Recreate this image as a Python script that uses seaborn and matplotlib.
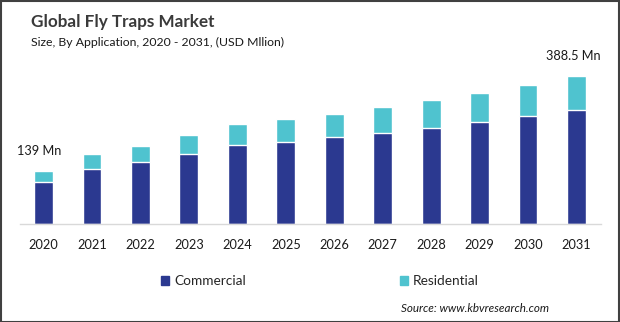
import matplotlib
matplotlib.use("Agg")
import matplotlib.pyplot as plt
import seaborn as sns
import pandas as pd
from matplotlib.patches import Rectangle

# Market size by application, USD million
years = ["2020", "2021", "2022", "2023", "2024", "2025",
         "2026", "2027", "2028", "2029", "2030", "2031"]
commercial = [110.3, 144.4, 162.8, 183.8, 207.4, 215.3,
              228.4, 238.9, 252.0, 267.8, 283.5, 299.3]
residential = [28.7, 39.4, 42.0, 49.8, 55.1, 60.3,
               60.4, 68.2, 73.5, 76.1, 81.4, 89.2]
series_names = ["Commercial", "Residential"]

COMM_COLOR = "#2b3990"
RES_COLOR = "#4fc3cf"

df = pd.DataFrame({"year": years, "Commercial": commercial, "Residential": residential})
df["total"] = df["Commercial"] + df["Residential"]

sns.set_theme(style="white")
plt.rcParams["font.family"] = ["Lato", "DejaVu Sans"]

W, H = 620, 322
fig = plt.figure(figsize=(W / 100, H / 100), dpi=100)

# plot area in pixel terms
left_px, right_px = 20, 601
base_px, top_px = 224, 60
ax = fig.add_axes([left_px / W, (H - base_px) / H,
                   (right_px - left_px) / W, (base_px - top_px) / H])

bar_w = 0.39
sns.barplot(data=df, x="year", y="total", color=RES_COLOR, saturation=1,
            width=bar_w, errorbar=None, ax=ax)
sns.barplot(data=df, x="year", y="Commercial", color=COMM_COLOR, saturation=1,
            width=bar_w, errorbar=None, ax=ax)

ax.set_xlim(-0.485, 11.506)
ax.set_ylim(0, (base_px - top_px) * 388.5 / 148)
ax.set_xlabel("")
ax.set_ylabel("")
ax.set_yticks([])
for side in ("top", "right", "left"):
    ax.spines[side].set_visible(False)
ax.spines["bottom"].set_color("#d9d9d9")
ax.spines["bottom"].set_linewidth(1)
ax.tick_params(axis="x", length=0, pad=11, labelsize=9.2, labelcolor="#1a1a1a")

# value labels on first and last bars
for i, dx in ((0, -4), (len(years) - 1, -3)):
    ax.annotate(f"{df['total'][i]:g} Mn", xy=(i, df["total"][i]),
                xytext=(dx, 20), textcoords="offset pixels",
                ha="center", va="center", fontsize=9.2, color="#1a1a1a",
                annotation_clip=False)

# titles
fig.text(31 / W, 1 - 22 / H, "Global Fly Traps Market", fontsize=12.3,
         fontweight="bold", color="#3a3a3a", ha="left", va="center")
fig.text(31 / W, 1 - 42 / H, "Size, By Application, 2020 - 2031, (USD Mllion)",
         fontsize=8.8, color="#1a1a1a", ha="left", va="center")

# legend
handles = [Rectangle((0, 0), 1, 1, color=COMM_COLOR),
           Rectangle((0, 0), 1, 1, color=RES_COLOR)]
fig.legend(handles, series_names, loc="center left",
           bbox_to_anchor=(161 / W, 1 - 281 / H), ncol=2, frameon=False,
           fontsize=9.8, handlelength=0.62, handleheight=0.62,
           handletextpad=0.35, columnspacing=11.3, borderpad=0, borderaxespad=0)

fig.text(401 / W, 1 - 309 / H, "Source: www.kbvresearch.com", fontsize=8.4,
         style="italic", color="#1a1a1a", ha="left", va="center")

# outer frame
fig.patches.append(Rectangle((0.5 / W, 0.5 / H), 1 - 1.5 / W, 1 - 1.5 / H,
                             transform=fig.transFigure, fill=False,
                             edgecolor="#404040", linewidth=1.5))

fig.savefig("out.png", dpi=100, facecolor="white")
